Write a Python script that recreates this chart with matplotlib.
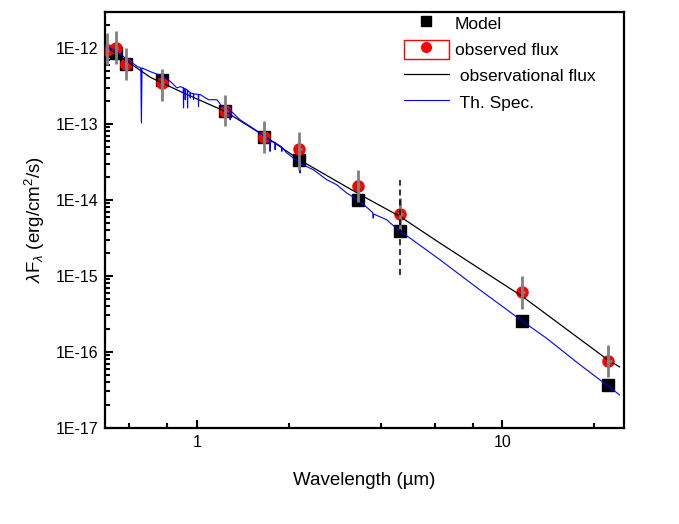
import math
import matplotlib
matplotlib.use("Agg")
import matplotlib.pyplot as plt
from matplotlib.ticker import FixedLocator, FuncFormatter, NullFormatter
from matplotlib.lines import Line2D
from matplotlib.patches import Rectangle
from matplotlib.legend_handler import HandlerTuple

plt.rcParams['font.family'] = ['Liberation Sans', 'DejaVu Sans']
plt.rcParams['mathtext.fontset'] = 'custom'
plt.rcParams['mathtext.rm'] = 'Liberation Sans'
plt.rcParams['mathtext.it'] = 'Liberation Sans:italic'

# photometric points (micron, erg/cm2/s)
wl = [0.508, 0.545, 0.587, 0.768, 1.237, 1.66, 2.16, 3.37, 4.62, 11.6, 22.2]
obs_flux = [9.5e-13, 1.0e-12, 6.15e-13, 3.46e-13, 1.46e-13, 6.7e-14, 4.65e-14,
            1.53e-14, 6.5e-15, 6.1e-16, 7.6e-17]
model_flux = [9.0e-13, 8.6e-13, 6.2e-13, 3.82e-13, 1.49e-13, 6.8e-14, 3.3e-14,
              9.8e-15, 3.9e-15, 2.55e-16, 3.6e-17]
err_hi = [1.59e-12, 1.65e-12, 1.0e-12, 5.2e-13, 2.4e-13, 1.08e-13, 7.7e-14,
          2.5e-14, 1.07e-14, 1.0e-15, 1.23e-16]
err_lo = [6.0e-13, 6.2e-13, 3.8e-13, 2.0e-13, 9.3e-14, 4.1e-14, 2.5e-14,
          9.5e-15, 4.0e-15, 3.7e-16, 4.6e-17]
wl_err_lo = [0.505, 0.542, 0.584, 0.764, 1.231, 1.652, 2.15, 3.355, 4.60, 11.55, 22.0]
wl_err_hi = [0.514, 0.552, 0.594, 0.779, 1.254, 1.685, 2.20, 3.43, 4.71, 11.85, 22.9]

# dashed bar at 4.6 micron
dash_wl = 4.62
dash_lo, dash_hi = 1.03e-15, 1.84e-14

# observational flux curve
obs_curve_wl = [0.502, 0.704, 0.904, 1.237, 1.672, 2.164, 3.42, 4.618, 6.24,
                11.63, 22.13, 24.17]
obs_curve_f = [1.05e-12, 4.1e-13, 2.55e-13, 1.46e-13, 6.84e-14, 3.37e-14,
               1.17e-14, 6.04e-15, 2.7e-15, 5.33e-16, 7.82e-17, 6.32e-17]

# theoretical spectrum
spec_wl = [0.502, 0.534, 0.583, 0.637, 0.655, 0.658, 0.661, 0.704, 0.759, 0.818,
           0.860, 0.882, 0.902, 0.904, 0.906, 0.914, 0.916, 0.918, 0.927, 0.930,
           0.932, 0.934, 0.949, 0.951, 0.953, 0.973, 0.975, 0.977, 1.010, 1.012,
           1.014, 1.025, 1.091, 1.162, 1.207, 1.283, 1.285, 1.287, 1.385, 1.494,
           1.61, 1.734, 1.736, 1.738, 1.801, 1.803, 1.805, 1.894, 1.896, 1.898,
           1.968, 2.172, 2.176, 2.180, 2.405, 2.66, 2.868, 3.092, 3.42, 3.76,
           3.776, 3.79, 4.178, 4.618, 4.98, 6.24, 8.43, 11.59, 13.93, 17.89,
           22.13, 24.17]
spec_f = [1.05e-12, 9.5e-13, 7.38e-13, 5.72e-13, 5.45e-13, 1.03e-13, 5.45e-13,
          4.87e-13, 4.35e-13, 3.63e-13, 2.97e-13, 3.09e-13, 3.0e-13, 1.62e-13,
          2.95e-13, 2.9e-13, 2.08e-13, 2.88e-13, 2.82e-13, 2.8e-13, 1.62e-13,
          2.75e-13, 2.6e-13, 2.19e-13, 2.55e-13, 2.5e-13, 2.08e-13, 2.48e-13,
          2.45e-13, 1.70e-13, 2.44e-13, 2.43e-13, 2.08e-13, 2.08e-13, 1.70e-13,
          1.54e-13, 1.13e-13, 1.5e-13, 1.13e-13, 9.27e-14, 7.59e-14, 6.01e-14,
          4.35e-14, 5.9e-14, 5.7e-14, 4.57e-14, 5.6e-14, 5.0e-14, 4.35e-14,
          4.9e-14, 4.14e-14, 3.06e-14, 2.26e-14, 3.0e-14, 2.49e-14, 1.84e-14,
          1.58e-14, 1.23e-14, 9.53e-15, 6.8e-15, 5.75e-15, 6.5e-15, 5.47e-15,
          3.84e-15, 3.14e-15, 1.63e-15, 6.54e-16, 2.55e-16, 1.51e-16, 6.8e-17,
          3.56e-17, 2.7e-17]

y_major = [1e-17, 1e-16, 1e-15, 1e-14, 1e-13, 1e-12]
x_major = [1, 10]
x_minor = [0.6, 0.8, 2, 4, 6, 8, 20]

fig = plt.figure(figsize=(6.79, 5.24), dpi=100)
ax = fig.add_axes([0.1546, 0.1838, 0.7644, 0.7939])

ax.plot(wl, model_flux, ls='none', marker='s', ms=8.2, color='black', mec='black', zorder=3)
ax.plot(wl, obs_flux, ls='none', marker='o', ms=8, color='red', mec='red', zorder=4)
ax.plot(obs_curve_wl, obs_curve_f, color='black', lw=0.9, zorder=5)
ax.plot(spec_wl, spec_f, color='blue', lw=0.8, zorder=5)
ax.vlines(wl, err_lo, err_hi, color='#808080', lw=2, zorder=6)
ax.hlines(obs_flux, wl_err_lo, wl_err_hi, color='#808080', lw=2, zorder=6)
ax.vlines([dash_wl], [dash_lo], [dash_hi], color='black', lw=1.1,
          linestyles=(0, (4, 2.5)), zorder=6)

ax.set_xscale('log')
ax.set_yscale('log')
ax.set_xlim(0.5, 25)
ax.set_ylim(1e-17, 3e-12)

ax.xaxis.set_major_locator(FixedLocator(x_major))
ax.xaxis.set_minor_locator(FixedLocator(x_minor))
ax.xaxis.set_major_formatter(FuncFormatter(lambda v, p: '%g' % v))
ax.xaxis.set_minor_formatter(NullFormatter())
ax.yaxis.set_major_locator(FixedLocator(y_major))
ax.yaxis.set_minor_locator(FixedLocator([d * k for d in y_major for k in range(2, 10)
                                         if d * k <= 3e-12]))
ax.yaxis.set_major_formatter(FuncFormatter(lambda v, p: '1E%d' % round(math.log10(v))))
ax.yaxis.set_minor_formatter(NullFormatter())

ax.tick_params(which='both', direction='in', width=1.5, labelsize=11.5)
ax.tick_params(which='major', length=6, pad=5)
ax.tick_params(which='minor', length=3.5)
for s in ax.spines.values():
    s.set_linewidth(1.6)

ax.set_xlabel('Wavelength (\u00b5m)', fontsize=13.5, labelpad=16)
ax.set_ylabel(r'$\lambda$F$_{\lambda}$ (erg/cm$^2$/s)', fontsize=13.5, labelpad=6)

h_model = Line2D([], [], ls='none', marker='s', ms=7, color='black')
h_obs = (Rectangle((0, 0), 1, 1, fc='none', ec='red', lw=1),
         Line2D([], [], ls='none', marker='o', ms=7, color='red'))
h_line = Line2D([], [], color='black', lw=0.9)
h_spec = Line2D([], [], color='blue', lw=0.8)
ax.legend([h_model, h_obs, h_line, h_spec],
          ['Model', 'observed flux', ' observational flux', ' Th. Spec.'],
          handler_map={tuple: HandlerTuple(ndivide=1)},
          loc='upper left', bbox_to_anchor=(0.562, 1.012), frameon=False,
          fontsize=12.5, numpoints=1, handlelength=2.6, handleheight=1.3,
          handletextpad=0.35, labelspacing=0.42, borderaxespad=0)

fig.savefig('out.png', dpi=100)
